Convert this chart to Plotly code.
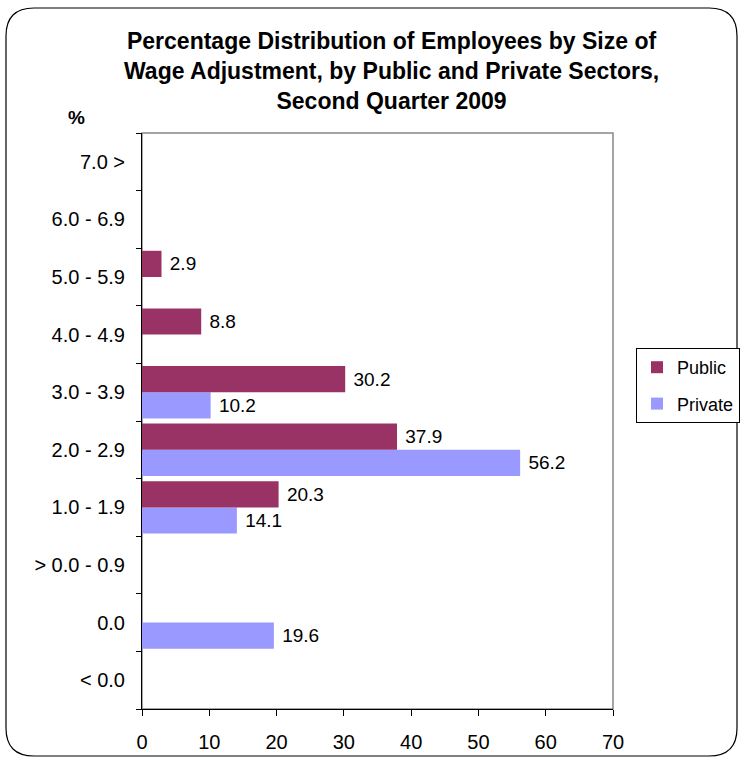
import plotly.graph_objects as go

categories = ["< 0.0", "0.0", "> 0.0 - 0.9", "1.0 - 1.9", "2.0 - 2.9",
              "3.0 - 3.9", "4.0 - 4.9", "5.0 - 5.9", "6.0 - 6.9", "7.0 >"]
public = [None, None, None, 20.3, 37.9, 30.2, 8.8, 2.9, None, None]
private = [None, 19.6, None, 14.1, 56.2, 10.2, None, None, None, None]
x_ticks = [0, 10, 20, 30, 40, 50, 60, 70]

W, H = 740, 759
L, R, T, B = 142, 127, 133, 50
PW, PH = W - L - R, H - T - B

def px(x):
    return (x - L) / PW

def py(y):
    return (H - B - y) / PH

def fmt(v):
    return [f" {x:.1f}" if x is not None else "" for x in v]

fig = go.Figure()
fig.add_trace(go.Bar(y=categories, x=private, orientation="h", name="Private",
                     legendgroup="b", legendrank=2,
                     marker=dict(color="#9999FF", line=dict(width=0)),
                     text=fmt(private), textposition="outside", cliponaxis=False,
                     textfont=dict(size=19, color="black")))
fig.add_trace(go.Bar(y=categories, x=public, orientation="h", name="Public",
                     legendgroup="a", legendrank=1,
                     marker=dict(color="#993366", line=dict(width=0)),
                     text=fmt(public), textposition="outside", cliponaxis=False,
                     textfont=dict(size=19, color="black")))

# rounded outer frame
x0, y0, x1, y1, r = 6, 8, 737, 756, 28
path = (f"M {px(x0+r)},{py(y0)} L {px(x1-r)},{py(y0)} Q {px(x1)},{py(y0)} {px(x1)},{py(y0+r)} "
        f"L {px(x1)},{py(y1-r)} Q {px(x1)},{py(y1)} {px(x1-r)},{py(y1)} "
        f"L {px(x0+r)},{py(y1)} Q {px(x0)},{py(y1)} {px(x0)},{py(y1-r)} "
        f"L {px(x0)},{py(y0+r)} Q {px(x0)},{py(y0)} {px(x0+r)},{py(y0)} Z")

fig.update_layout(
    width=W, height=H,
    margin=dict(l=L, r=R, t=T, b=B, autoexpand=False),
    paper_bgcolor="white", plot_bgcolor="white",
    font=dict(family="Liberation Sans, Arial, sans-serif", size=20, color="black"),
    barmode="group", bargap=0.09, bargroupgap=0.0,
    showlegend=True,
    legend=dict(traceorder="grouped", x=px(636), y=py(348), xanchor="left", yanchor="top",
                bordercolor="black", borderwidth=1, bgcolor="white",
                font=dict(size=18), itemwidth=30, tracegroupgap=10),
    xaxis=dict(range=[0, 70], tickvals=x_ticks, ticks="outside", ticklen=6,
               tickcolor="black", showline=True, linecolor="black", linewidth=1,
               showgrid=False, zeroline=False, tickfont=dict(size=20), ticklabelstandoff=9),
    yaxis=dict(categoryorder="array", categoryarray=categories, ticks="outside",
               tickson="boundaries", ticklen=5, tickcolor="black", showline=True,
               linecolor="black", linewidth=1, showgrid=False, tickfont=dict(size=20),
               ticklabelstandoff=12),
    shapes=[
        dict(type="rect", xref="paper", yref="paper", x0=0, y0=0, x1=1, y1=1,
             line=dict(color="#888888", width=1.5), layer="below"),
        dict(type="path", xref="paper", yref="paper", path=path,
             line=dict(color="black", width=1.2)),
    ],
    annotations=[
        dict(text="<b>Percentage Distribution of Employees by Size of<br>"
                  "Wage Adjustment, by Public and Private Sectors,<br>"
                  "Second Quarter 2009</b>",
             xref="paper", yref="paper", x=px(391), y=py(26), xanchor="center", yanchor="top",
             showarrow=False, font=dict(size=23), align="center"),
        dict(text="<b>%</b>", xref="paper", yref="paper", x=px(76), y=py(118),
             xanchor="center", yanchor="middle", showarrow=False, font=dict(size=19)),
    ],
)

fig.write_html("out.html", config={"displayModeBar": False},
               post_script="document.body.style.margin='0px';")
